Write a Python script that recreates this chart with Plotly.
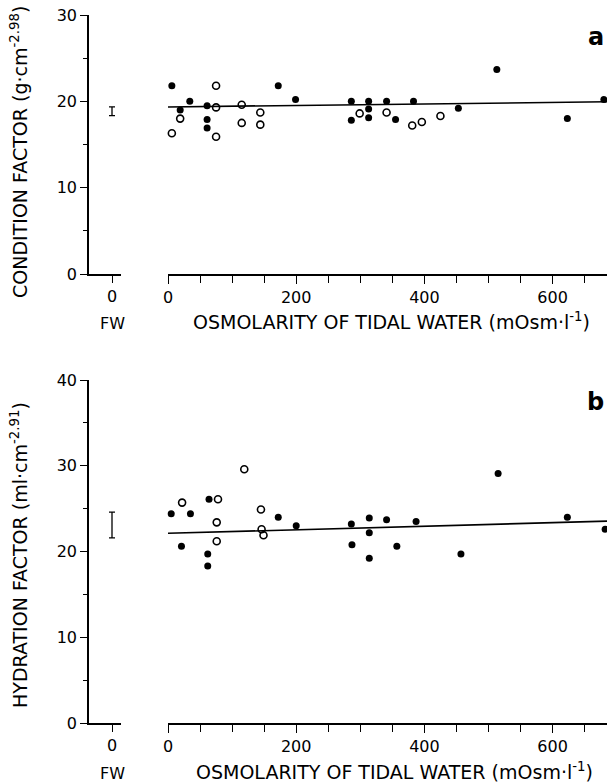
import plotly.graph_objects as go

W, H = 607, 783

# ---------------- data ----------------
# Panel a: condition factor
a_filled_x = [6, 34, 61, 19, 61, 61, 172, 199, 286, 286, 313, 313, 313, 341, 355, 383, 453, 513, 623, 680]
a_filled_y = [21.8, 20.0, 19.5, 19.0, 17.9, 16.9, 21.8, 20.2, 20.0, 17.8, 20.0, 19.1, 18.1, 20.0, 17.9, 20.0, 19.2, 23.7, 18.0, 20.2]
a_open_x = [6, 19, 75, 75, 75, 115, 115, 144, 144, 299, 341, 381, 396, 425]
a_open_y = [16.3, 18.0, 21.8, 19.3, 15.9, 19.6, 17.5, 18.7, 17.3, 18.6, 18.7, 17.2, 17.6, 18.3]
a_fit_x = [0, 700]
a_fit_y = [19.35, 19.96]
a_fw_mean, a_fw_err = 18.85, 0.5

# Panel b: hydration factor
b_filled_x = [5, 35, 21, 64, 62, 62, 172, 200, 286, 287, 314, 314, 314, 341, 357, 387, 457, 515, 623, 682]
b_filled_y = [24.4, 24.4, 20.6, 26.1, 19.7, 18.3, 24.0, 23.0, 23.2, 20.8, 23.9, 22.2, 19.2, 23.7, 20.6, 23.5, 19.7, 29.1, 24.0, 22.6]
b_open_x = [22, 78, 76, 76, 119, 145, 146, 149]
b_open_y = [25.7, 26.1, 23.4, 21.2, 29.6, 24.9, 22.6, 21.9]
b_fit_x = [0, 700]
b_fit_y = [22.12, 23.57]
b_fw_mean, b_fw_err = 23.1, 1.5

x_major = [0, 200, 400, 600]
fw_ticks = [0]

x_title = "OSMOLARITY OF TIDAL WATER (mOsm·l<sup>-1</sup>)"
a_ytitle = "CONDITION FACTOR (g·cm<sup>-2.98</sup>)"
b_ytitle = "HYDRATION FACTOR (ml·cm<sup>-2.91</sup>)"

# ---------------- layout helpers ----------------
def px(x):
    return x / W

def py(y):
    return 1 - y / H

FONT = "DejaVu Sans"
INK = "#000000"
tickfont = dict(family=FONT, size=16, color=INK)

y_axis_px = 89
fw_right_px = 121
main_left_px = 168
main_scale = 0.641  # px per mOsm
main_right_val = (W - main_left_px) / main_scale

panels = [
    dict(top=15, bottom=274, ymax=30, fx=a_filled_x, fy=a_filled_y, ox=a_open_x, oy=a_open_y,
         lx=a_fit_x, ly=a_fit_y, m=a_fw_mean, e=a_fw_err, ytitle=a_ytitle, letter="a",
         label_y=323, ytitle_c=152, xtitle_c=391),
    dict(top=380, bottom=723, ymax=40, fx=b_filled_x, fy=b_filled_y, ox=b_open_x, oy=b_open_y,
         lx=b_fit_x, ly=b_fit_y, m=b_fw_mean, e=b_fw_err, ytitle=b_ytitle, letter="b",
         label_y=773, ytitle_c=555, xtitle_c=394),
]

fig = go.Figure()
annotations = []
layout = {}

for i, p in enumerate(panels):
    fwx = f"x{2*i+1}" if i else "x"
    mx = f"x{2*i+2}"
    yy = f"y{i+1}" if i else "y"
    fw_key = "xaxis" + (str(2*i+1) if i else "")
    m_key = f"xaxis{2*i+2}"
    y_key = "yaxis" + (str(i+1) if i else "")

    ydom = [py(p["bottom"]), py(p["top"])]

    # FW axis: 0 placed at px 112
    fw_range = [-(112 - y_axis_px) / 5.0, (fw_right_px - 112) / 5.0]
    layout[fw_key] = dict(
        domain=[px(y_axis_px), px(fw_right_px)], range=fw_range, anchor=yy, automargin=False,
        showline=True, linecolor=INK, linewidth=1.5, showgrid=False, zeroline=False,
        tickmode="array", tickvals=fw_ticks, ticktext=["0"], ticks="outside",
        ticklen=7, tickwidth=1.3, tickcolor=INK, tickfont=tickfont, fixedrange=True,
        ticklabeloverflow="allow",
    )
    layout[m_key] = dict(
        domain=[px(main_left_px), 1.0], range=[0, main_right_val], anchor=yy,
        automargin=False, ticklabeloverflow="allow",
        showline=True, linecolor=INK, linewidth=1.5, showgrid=False, zeroline=False,
        tickmode="array", tickvals=x_major, ticks="outside", ticklen=8, tickwidth=1.3,
        tickcolor=INK, tickfont=tickfont,
        minor=dict(dtick=50, tick0=0, ticks="outside", ticklen=7, tickwidth=1.3, tickcolor=INK, showgrid=False),
    )
    layout[y_key] = dict(
        domain=ydom, range=[0, p["ymax"]], anchor=fwx, automargin=False, ticklabeloverflow="allow",
        showline=True, linecolor=INK, linewidth=1.5, showgrid=False, zeroline=False,
        dtick=10, tick0=0, ticks="outside", ticklen=7, tickwidth=1.3, tickcolor=INK,
        tickfont=tickfont,
        minor=dict(dtick=5, tick0=0, ticks="outside", ticklen=4, tickwidth=1.3, tickcolor=INK, showgrid=False),
    )

    # regression line
    fig.add_trace(go.Scatter(x=p["lx"], y=p["ly"], xaxis=mx, yaxis=yy, mode="lines",
                             line=dict(color=INK, width=1.6), showlegend=False, hoverinfo="skip"))
    # open circles
    fig.add_trace(go.Scatter(x=p["ox"], y=p["oy"], xaxis=mx, yaxis=yy, mode="markers",
                             marker=dict(symbol="circle-open", size=7, color=INK, line=dict(width=1.6)),
                             showlegend=False, cliponaxis=False))
    # filled circles
    fig.add_trace(go.Scatter(x=p["fx"], y=p["fy"], xaxis=mx, yaxis=yy, mode="markers",
                             marker=dict(symbol="circle", size=7, color=INK),
                             showlegend=False, cliponaxis=False))
    # freshwater error bar
    fig.add_trace(go.Scatter(x=[0], y=[p["m"]], xaxis=fwx, yaxis=yy, mode="markers",
                             marker=dict(size=1, color="rgba(0,0,0,0)"),
                             error_y=dict(type="constant", value=p["e"], color=INK, thickness=1.3, width=3),
                             showlegend=False))

    annotations.append(dict(x=px(112), y=py(p["label_y"]), xref="paper", yref="paper", text="FW",
                            showarrow=False, font=dict(family=FONT, size=16, color=INK),
                            xanchor="center", yanchor="middle"))
    annotations.append(dict(x=px(p["xtitle_c"]), y=py(p["label_y"] - 2), xref="paper", yref="paper",
                            text=x_title, showarrow=False, font=dict(family=FONT, size=19, color=INK),
                            xanchor="center", yanchor="middle"))
    annotations.append(dict(x=px(19), y=py(p["ytitle_c"]), xref="paper", yref="paper",
                            text=p["ytitle"], textangle=-90, showarrow=False,
                            font=dict(family=FONT, size=19, color=INK),
                            xanchor="center", yanchor="middle"))
    annotations.append(dict(x=px(606), y=py(p["top"] + 22), xref="paper", yref="paper",
                            text="<b>" + p["letter"] + "</b>", showarrow=False,
                            font=dict(family=FONT, size=24, color=INK),
                            xanchor="right", yanchor="middle"))

fig.update_layout(
    width=W, height=H, margin=dict(l=0, r=0, t=0, b=0, autoexpand=False),
    paper_bgcolor="white", plot_bgcolor="white",
    annotations=annotations, showlegend=False,
    **layout,
)

fig.write_html(
    "out.html",
    config={"displayModeBar": False},
    post_script="document.body.style.margin='0';document.body.style.overflow='hidden';",
)
